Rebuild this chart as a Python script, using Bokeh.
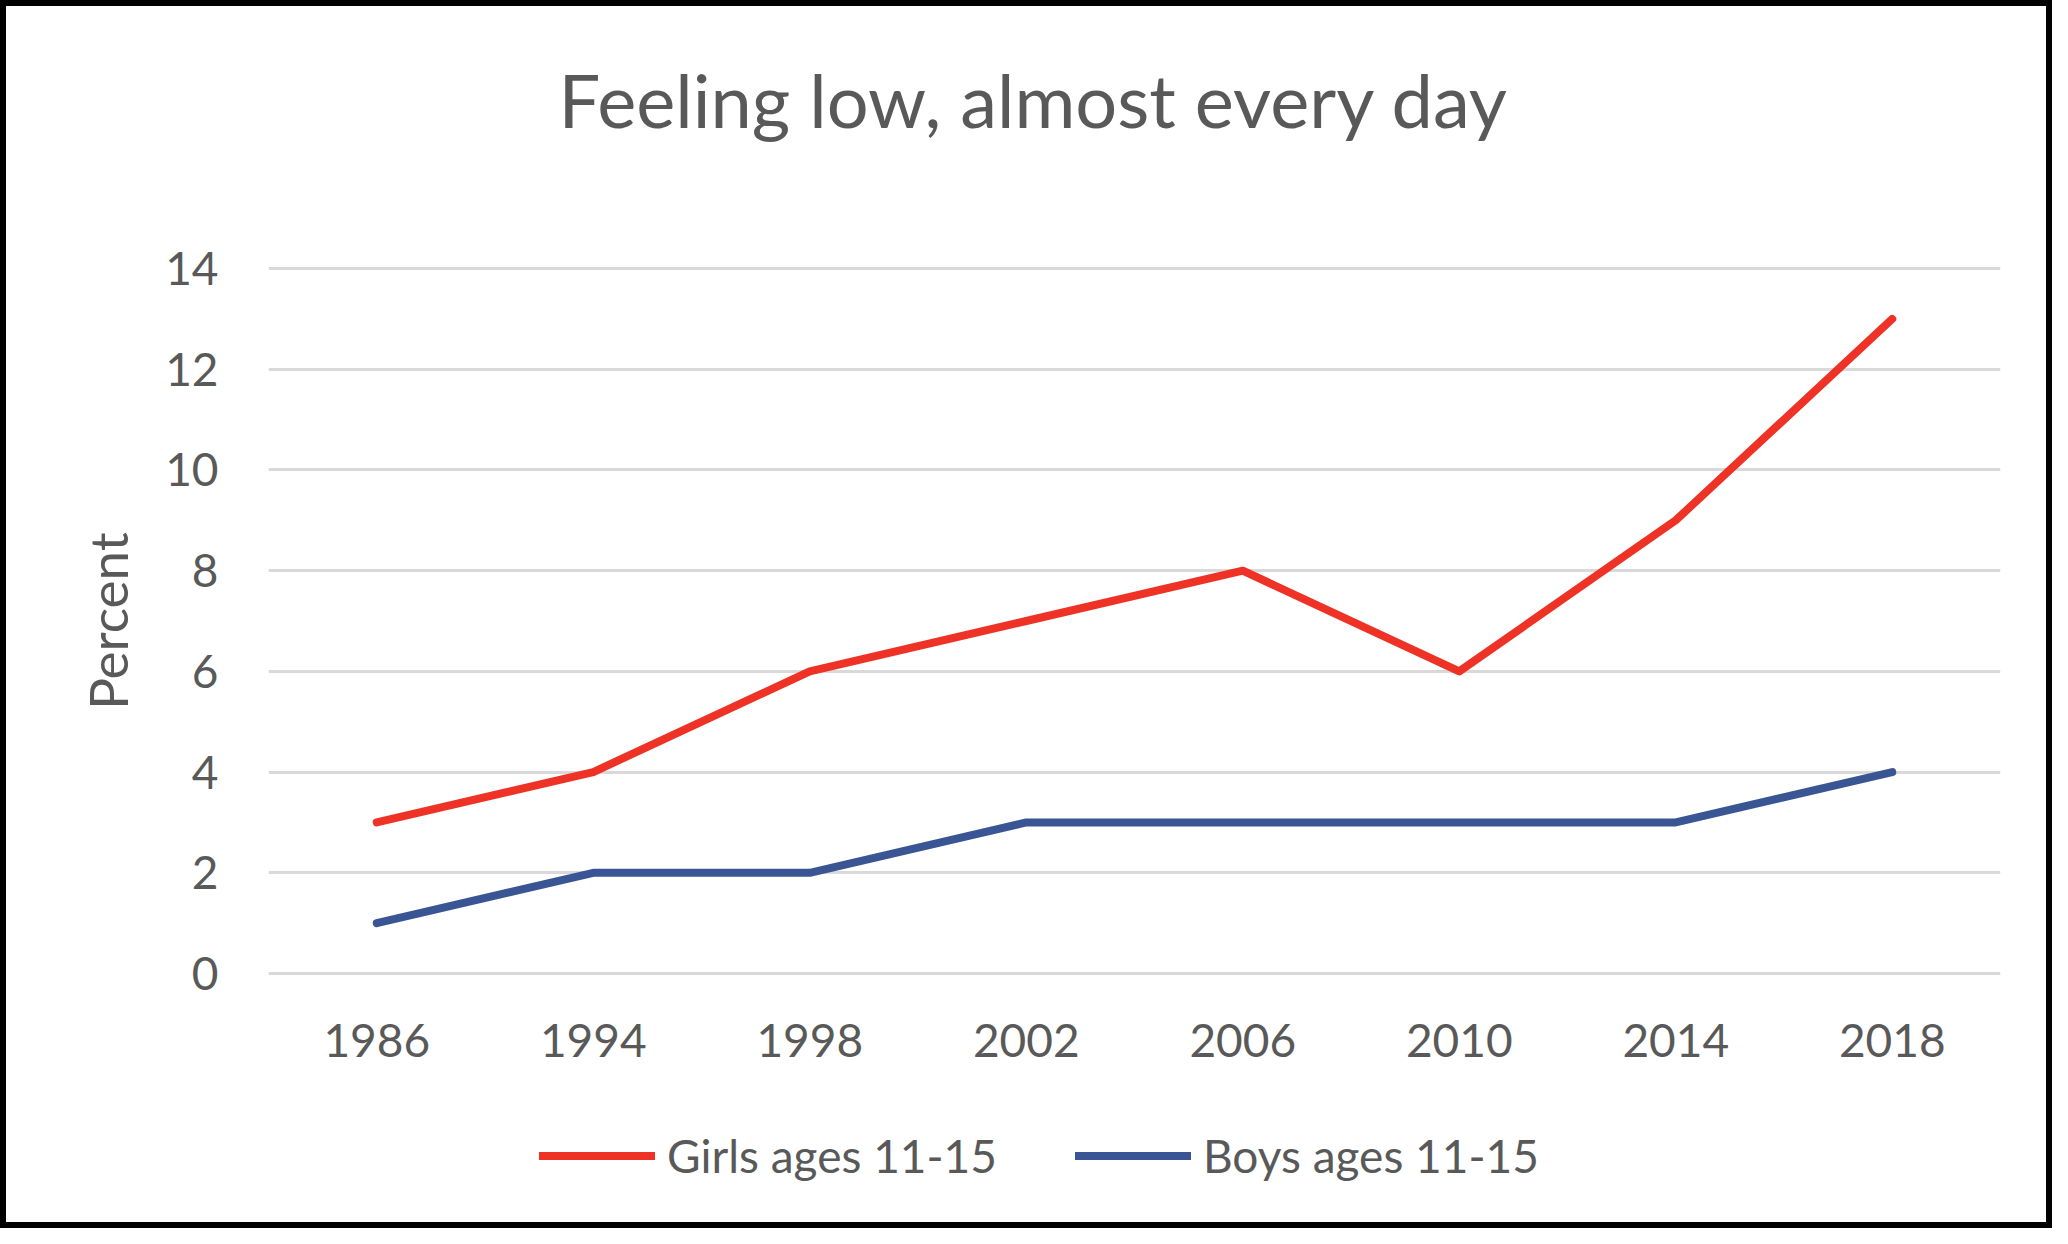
from bokeh.plotting import figure
from bokeh.layouts import column
from bokeh.models import Range1d, FactorRange, FixedTicker, Legend, LegendItem, Title
from bokeh.embed import file_html
from bokeh.resources import INLINE

# ---- data ----
years = ["1986", "1994", "1998", "2002", "2006", "2010", "2014", "2018"]
girls = [3, 4, 6, 7, 8, 6, 9, 13]
boys = [1, 2, 2, 3, 3, 3, 3, 4]
y_ticks = [0, 2, 4, 6, 8, 10, 12, 14]
series_names = ["Girls ages 11-15", "Boys ages 11-15"]
title_text = "Feeling low, almost every day"
y_label = "Percent"

# ---- style ----
FONT = "Lato"
TEXT = "#595959"
RED = "#EE3226"
BLUE = "#3A5594"
GRID = "#D9D9D9"
LW = 8

# ================= main chart =================
p = figure(
    width=2052, height=1090,
    x_range=FactorRange(factors=years, range_padding=0),
    y_range=Range1d(-0.04, 14.04),
    output_backend="svg", toolbar_location=None,
    min_border_left=262, min_border_right=58,
    min_border_top=260, min_border_bottom=121,
)
p.styles = {"border-top": "6px solid black", "border-left": "6px solid black",
            "border-right": "6px solid black"}
p.outline_line_color = None
p.background_fill_color = "white"
p.border_fill_color = "white"

# spacer between frame and title
spacer = Title(text=" ", text_font_size="10px", standoff=105)
p.add_layout(spacer, "above")

p.title.text = title_text
p.title.align = "left"
p.title.offset = 290
p.title.standoff = 10
p.title.text_font = FONT
p.title.text_font_size = "74px"
p.title.text_font_style = "normal"
p.title.text_color = TEXT

p.xgrid.grid_line_color = None
p.ygrid.grid_line_color = GRID
p.ygrid.grid_line_width = 3

for ax in (p.xaxis[0], p.yaxis[0]):
    ax.axis_line_color = None
    ax.major_tick_line_color = None
    ax.minor_tick_line_color = None
    ax.major_label_text_font = FONT
    ax.major_label_text_font_size = "46px"
    ax.major_label_text_color = TEXT
p.yaxis.ticker = FixedTicker(ticks=y_ticks)
p.yaxis.major_label_standoff = 44
p.yaxis.axis_label = y_label
p.yaxis.axis_label_text_font = FONT
p.yaxis.axis_label_text_font_size = "53px"
p.yaxis.axis_label_text_font_style = "normal"
p.yaxis.axis_label_text_color = TEXT
p.yaxis.axis_label_standoff = 23
p.xaxis.major_label_standoff = 42

p.line(x=years, y=girls, line_color=RED, line_width=LW,
       line_cap="round", line_join="round")
p.line(x=years, y=boys, line_color=BLUE, line_width=LW,
       line_cap="round", line_join="round")

# ================= legend strip =================
pl = figure(
    width=2052, height=138,
    x_range=FactorRange(factors=years, range_padding=0),
    y_range=Range1d(-2, -1),          # series kept out of view; legend only
    output_backend="svg", toolbar_location=None,
    x_axis_location=None, y_axis_location=None,
    min_border_left=262, min_border_right=58,
    min_border_top=0, min_border_bottom=8,
)
pl.styles = {"border-bottom": "6px solid black", "border-left": "6px solid black",
             "border-right": "6px solid black"}
pl.outline_line_color = None
pl.background_fill_color = "white"
pl.border_fill_color = "white"
pl.xgrid.grid_line_color = None
pl.ygrid.grid_line_color = None

g1 = pl.line(x=years, y=girls, line_color=RED, line_width=LW,
             line_cap="round", line_join="round")
g2 = pl.line(x=years, y=boys, line_color=BLUE, line_width=LW,
             line_cap="round", line_join="round")

legend = Legend(
    items=[LegendItem(label=series_names[0], renderers=[g1]),
           LegendItem(label=series_names[1], renderers=[g2])],
    orientation="horizontal",
    location="left",
    glyph_width=116, glyph_height=20,
    label_standoff=12, spacing=78,
    padding=0, margin=271,
    border_line_color=None,
    background_fill_alpha=0,
    label_text_font=FONT,
    label_text_font_size="46px",
    label_text_color=TEXT,
)
pl.add_layout(legend, "center")

layout = column(p, pl, spacing=0)
open("out.html", "w").write(file_html(layout, INLINE))
